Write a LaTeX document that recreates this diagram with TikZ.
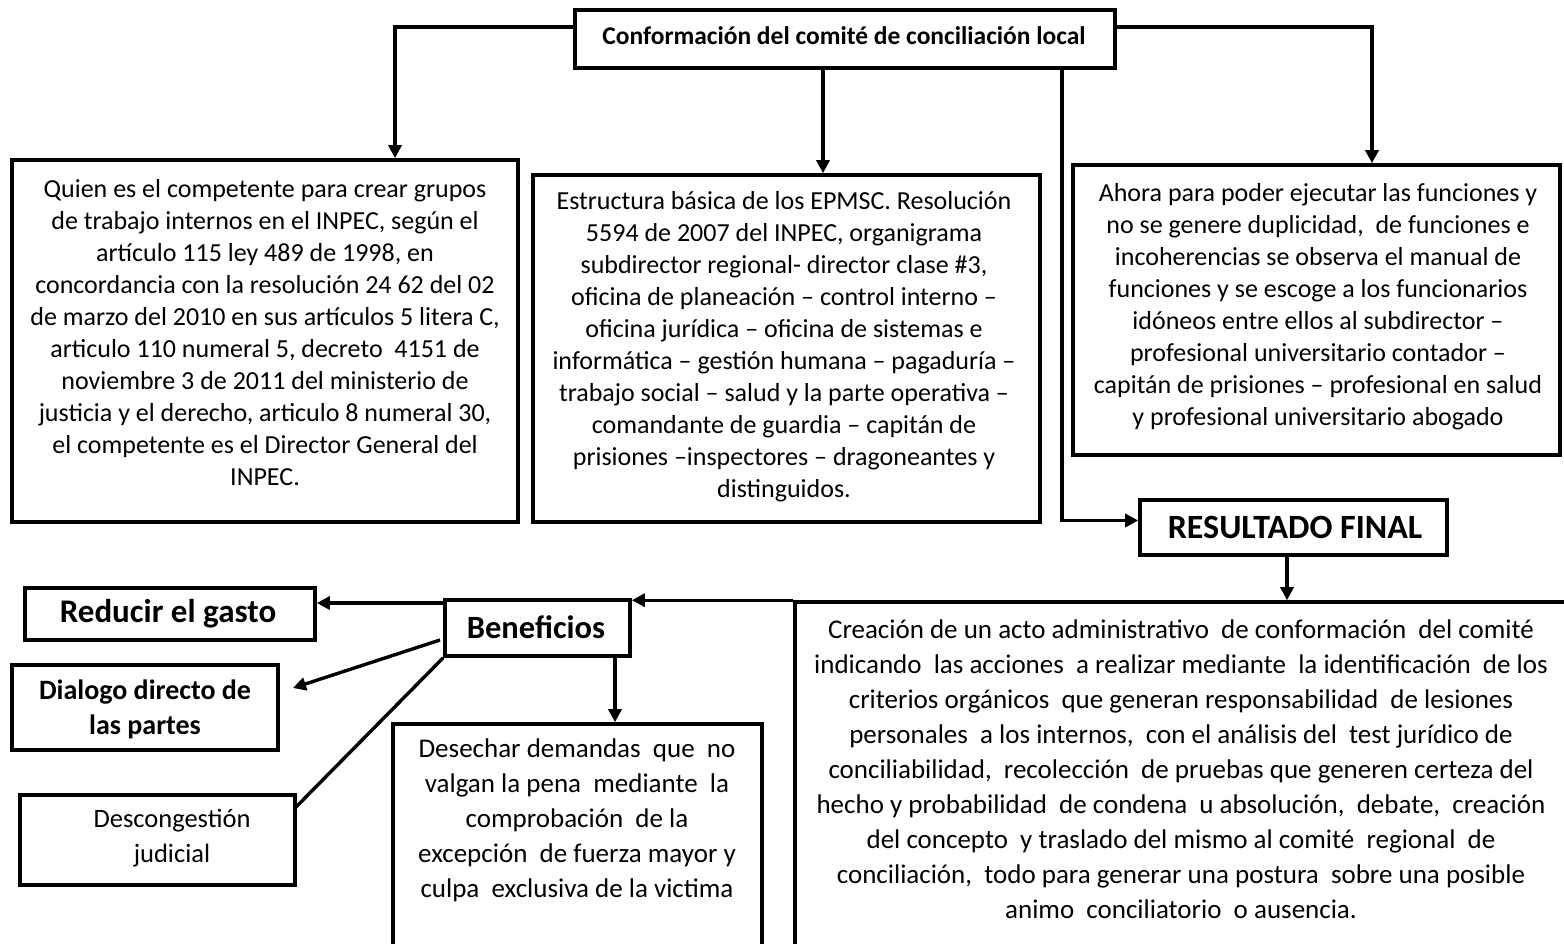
\documentclass[tikz,border=0pt]{standalone}
\usepackage{fontspec}
\setmainfont{Carlito}
\usetikzlibrary{arrows.meta}
\begin{document}
\begin{tikzpicture}[x=1pt,y=-1pt,
  box/.style={draw,line width=3.6pt,inner sep=0pt},
  conn/.style={line width=3.4pt},
  arr/.style={conn,-{Triangle[length=13pt,width=13pt]}},
  upper/.style={align=center,inner sep=0pt,font=\fontsize{26}{32}\selectfont},
  lower/.style={align=center,inner sep=0pt,font=\fontsize{27}{35}\selectfont},
]
\clip (0,0) rectangle (1564,943);
\fill[white] (0,0) rectangle (1564,943);

% boxes
\node[box,minimum width=540,minimum height=58] (top) at (845,39) {};
\node[font=\bfseries\fontsize{25.5}{30}\selectfont,inner sep=0pt] (toptxt) at (844,36) {Conformación del comité de conciliación local};

\node[box,minimum width=506,minimum height=362] (left) at (265,341) {};
\node[upper] (lefttxt) at (265,333) {Quien es el competente para crear grupos\\
de trabajo internos en el INPEC, según el\\
artículo 115 ley 489 de 1998, en\\
concordancia con la resolución 24 62 del 02\\
de marzo del 2010 en sus artículos 5 litera C,\\
articulo 110 numeral 5, decreto \ 4151 de\\
noviembre 3 de 2011 del ministerio de\\
justicia y el derecho, articulo 8 numeral 30,\\
el competente es el Director General del\\
INPEC.};

\node[box,minimum width=507,minimum height=347] (mid) at (786.5,348.5) {};
\node[upper] (midtxt) at (784,347) {Estructura básica de los EPMSC. Resolución\\
5594 de 2007 del INPEC, organigrama\\
subdirector regional- director clase \#3,\\
oficina de planeación – control interno –\\
oficina jurídica – oficina de sistemas e\\
informática – gestión humana – pagaduría –\\
trabajo social – salud y la parte operativa –\\
comandante de guardia – capitán de\\
prisiones –inspectores – dragoneantes y\\
distinguidos.};

\node[box,minimum width=487,minimum height=290] (right) at (1316.5,310) {};
\node[upper] (righttxt) at (1318,307) {Ahora para poder ejecutar las funciones y\\
no se genere duplicidad, \ de funciones e\\
incoherencias se observa el manual de\\
funciones y se escoge a los funcionarios\\
idóneos entre ellos al subdirector –\\
profesional universitario contador –\\
capitán de prisiones – profesional en salud\\
y profesional universitario abogado};

\node[box,minimum width=307,minimum height=55] (res) at (1293.5,527.5) {};
\node[font=\bfseries\fontsize{34}{38}\selectfont,inner sep=0pt] (restxt) at (1295,527) {RESULTADO FINAL};

\node[box,minimum width=780,minimum height=360] (big) at (1185,782) {};
\node[lower] (bigtxt) at (1181,769) {Creación de un acto administrativo \ de conformación \ del comité\\
indicando \ las acciones \ a realizar mediante \ la identificación \ de los\\
criterios orgánicos \ que generan responsabilidad \ de lesiones\\
personales \ a los internos, \ con el análisis del \ test jurídico de\\
conciliabilidad, \ recolección \ de pruebas que generen certeza del\\
hecho y probabilidad \ de condena \ u absolución, \ debate, \ creación\\
del concepto \ y traslado del mismo al comité \ regional \ de\\
conciliación, \ todo para generar una postura \ sobre una posible\\
animo \ conciliatorio \ o ausencia.};

\node[box,minimum width=185,minimum height=56] (ben) at (537.5,628) {};
\node[font=\bfseries\fontsize{32.5}{36}\selectfont,inner sep=0pt] (bentxt) at (536,627) {Beneficios};

\node[box,minimum width=290,minimum height=52] (red) at (170,614) {};
\node[font=\bfseries\fontsize{33}{36}\selectfont,inner sep=0pt] (redtxt) at (168,614) {Reducir el gasto};

\node[box,minimum width=266,minimum height=85] (dia) at (145,707.5) {};
\node[align=center,font=\bfseries\fontsize{28}{35}\selectfont,inner sep=0pt] (diatxt) at (145,709) {Dialogo directo de\\las partes};

\node[box,minimum width=275,minimum height=90] (des) at (157.5,840) {};
\node[align=center,font=\fontsize{26.5}{35}\selectfont,inner sep=0pt] (destxt) at (172,838) {Descongestión\\judicial};

\node[box,minimum width=369,minimum height=240] (dese) at (577.5,844) {};
\node[lower] (desetxt) at (577,820) {Desechar demandas \ que \ no\\
valgan la pena \ mediante \ la\\
comprobación \ de la\\
excepción \ de fuerza mayor y\\
culpa \ exclusiva de la victima};

% connectors
\coordinate (lt) at (395,0);
\coordinate (rt) at (1372,0);
\coordinate (mt) at (823,0);
\coordinate (rf) at (1062,0);
\coordinate (bl) at (0,603);
\draw[arr] ([yshift=12pt]top.west) -| (left.north -| lt);
\draw[arr] ([yshift=12pt]top.east) -| (right.north -| rt);
\draw[arr] (top.south -| mt) -- (mid.north -| mt);
\draw[arr] (top.south -| rf) |- ([yshift=7pt]res.west);
\draw[arr] (res.south -| 1287,0) -- (big.north -| 1287,0);
\draw[arr] (big.north west) -- (ben.east |- big.north west);
\draw[arr] (ben.west |- bl) -- (red.east |- bl);
\coordinate (diaend) at (293,688);
\draw[arr] (440,640) -- (diaend);
\coordinate (desend) at (295,808);
\draw[conn] (ben.south west) -- (desend);
\draw[arr] (ben.south -| 615,0) -- (dese.north -| 615,0);
\end{tikzpicture}
\end{document}
